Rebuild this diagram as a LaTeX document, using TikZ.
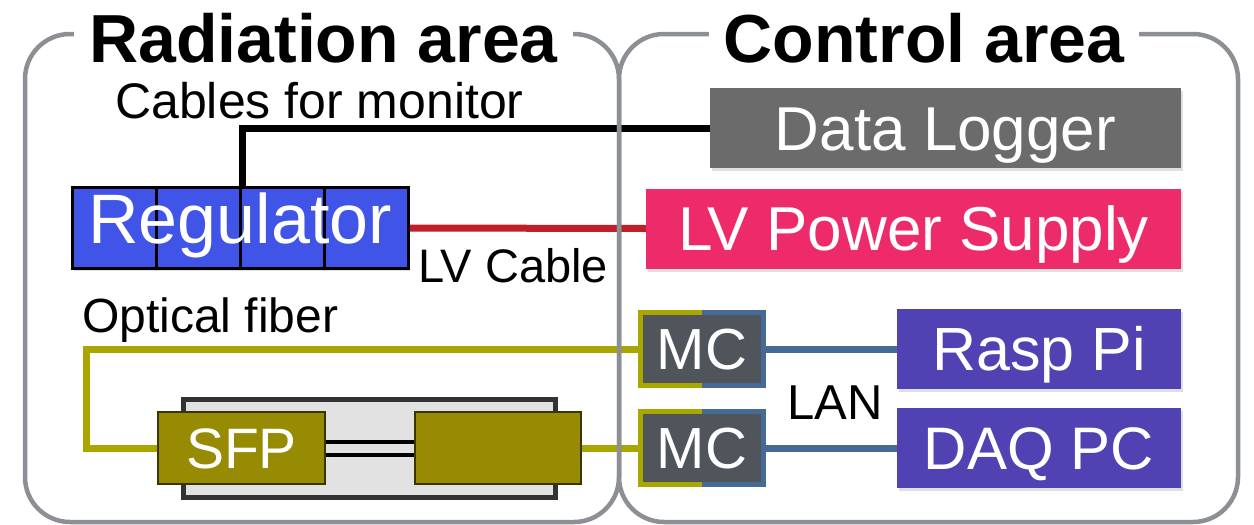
\documentclass[tikz,border=0pt]{standalone}
\usepackage{fontspec}
\setmainfont{Liberation Sans}
\usepackage{xcolor}
\usetikzlibrary{positioning,calc,backgrounds,shadows}

\definecolor{framegray}{HTML}{8C8F93}
\definecolor{cablered}{HTML}{C01F28}
\definecolor{regblue}{HTML}{4055E8}
\definecolor{loggergray}{HTML}{6B6B6B}
\definecolor{lvpink}{HTML}{EE2B6A}
\definecolor{fiberolive}{HTML}{A9A600}
\definecolor{sfpolive}{HTML}{968B03}
\definecolor{sfpedge}{HTML}{3B3600}
\definecolor{cagegray}{HTML}{E2E2E2}
\definecolor{mcgray}{HTML}{50555B}
\definecolor{lanblue}{HTML}{456A96}
\definecolor{pcpurple}{HTML}{5042B2}
\newcommand{\fsz}[1]{\fontsize{#1}{#1}\selectfont}

\begin{document}
\begin{tikzpicture}[x=1pt, y=-1pt,
  areaframe/.style={draw=framegray, line width=4.5, rounded corners=45},
  areatitle/.style={anchor=base, fill=white, inner xsep=15, inner ysep=2,
                    font=\fsz{68}\bfseries},
  lbl/.style={anchor=base west, inner sep=0, font=\fsz{#1}},
  lbl/.default=48,
  devbox/.style={minimum height=80, inner sep=0, text=white,
                 font=\fsz{#1}, text height={0.716*#1}, text depth=0,
                 drop shadow={opacity=0.25, shadow xshift=1.5pt, shadow yshift=-3pt}},
  regcell/.style={draw=black, line width=3, fill=regblue, minimum width=84,
                  minimum height=80.5, inner sep=0,
                  drop shadow={opacity=0.25, shadow xshift=1.5pt, shadow yshift=-3pt}},
  mcbox/.style={fill=mcgray, minimum width=123, minimum height=73, inner sep=0,
                text=white, font=\fsz{58}, text height={0.716*58}, text depth=0},
  sfpbox/.style={draw=sfpedge, line width=2, fill=sfpolive, minimum height=72,
                 inner sep=0, text=white, font=\fsz{57}, text height={0.716*57},
                 text depth=0},
  cage/.style={draw=black!80, line width=5, fill=cagegray, minimum width=372,
               minimum height=98},
  monitor/.style={draw=black, line width=7},
  lvcable/.style={draw=cablered, line width=7},
  fiber/.style={draw=fiberolive, line width=7},
  lan/.style={draw=lanblue, line width=7},
  duplex/.style={draw=black, line width=4}
]
\useasboundingbox (0,0) rectangle (1254,525);

% ── Control area devices ─────────────────────────────────────────────────────
\node[devbox=62, fill=loggergray, minimum width=471] (logger) at (945.5,128)
  {Data Logger};
\node[devbox=62, fill=lvpink, minimum width=535] (lvps) at (913.5,228.5)
  {LV Power Supply};
\node[devbox=61, fill=pcpurple, minimum width=284] (raspi) at (1039,349)
  {Rasp Pi};
\node[devbox=60, fill=pcpurple, minimum width=284] (daqpc) at (1039,448)
  {DAQ PC};

% ── Media converters ─────────────────────────────────────────────────────────
\node[mcbox] (mcA) at (702,349) {MC};
\node[mcbox] (mcB) at (702,448) {MC};
\foreach \m in {mcA,mcB} {
  \draw[fiberolive, line width=5] (\m.north) -| (\m.west) |- (\m.south);
  \draw[lanblue, line width=5] (\m.north) -| (\m.east) |- (\m.south);
}

% ── Regulator ────────────────────────────────────────────────────────────────
\foreach \i in {0,...,3}
  \node[regcell] (reg\i) at ({114.5+84*\i},228) {};
\node[text=white, font=\fsz{70}, inner sep=0] (regtext) at (240,225) {Regulator};

% ── SFP ──────────────────────────────────────────────────────────────────────
\node[cage] (sfpcage) at (369.5,448.5) {};
\node[sfpbox, minimum width=167] (sfpL) at (241.5,448) {SFP};
\node[sfpbox, minimum width=166] (sfpR) at (498,448) {};

% ── Cables ───────────────────────────────────────────────────────────────────
\coordinate (fiberbend) at (86,349);
\begin{scope}[on background layer]
  \draw[monitor] (logger.west) -| (reg1.north east);
  \draw[lvcable] (reg3.east) -- (lvps.west);
  \draw[fiber] (mcA.west) -- (fiberbend) |- (sfpL.west);
  \draw[fiber] (sfpR.east) -- (mcB.west);
  \draw[lan] (mcA.east) -- (raspi.west);
  \draw[lan] (mcB.east) -- (daqpc.west);
\end{scope}
\draw[duplex] ($(sfpL.east)+(0,-6.5)$) -- ($(sfpR.west)+(0,-6.5)$);
\draw[duplex] ($(sfpL.east)+(0,6.5)$) -- ($(sfpR.west)+(0,6.5)$);

% ── Cable labels ─────────────────────────────────────────────────────────────
\node[lbl=50] (monlbl) at (115,118) {Cables for monitor};
\node[lbl=47] (lvlbl) at (418,282) {LV Cable};
\node[lbl=48] (fiblbl) at (82,332) {Optical fiber};
\node[lbl=49] (lanlbl) at (787,419) {LAN};

% ── Areas ────────────────────────────────────────────────────────────────────
\draw[areaframe] (25,34) rectangle (619,522);
\draw[areaframe] (619,34) rectangle (1238,522);
\node[areatitle] (radtitle) at (323.5,62) {Radiation area};
\node[areatitle] (ctltitle) at (924,62) {Control area};
\end{tikzpicture}
\end{document}
